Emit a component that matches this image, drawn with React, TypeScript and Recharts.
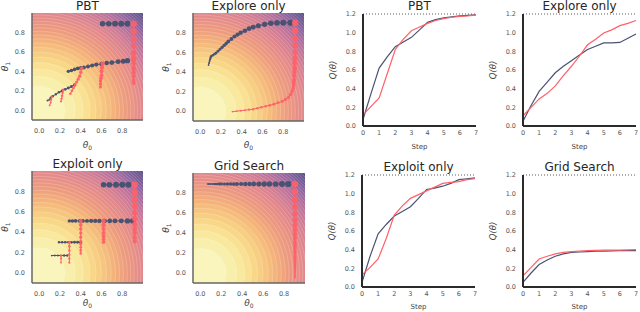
import React from 'react';
import * as RC from 'recharts';

const { ScatterChart, Scatter, LineChart, Line, XAxis, YAxis, ZAxis, ReferenceLine } = RC;
const R: any = RC;

type Pt = [number, number, number]; // theta0, theta1, step

// ---- line panels: Q(theta) per step ----
const STEPS = [0, 0.5, 1, 1.5, 2, 2.5, 3, 3.5, 4, 4.5, 5, 5.5, 6, 6.5, 7];
const STEP_TICKS = [0, 1, 2, 3, 4, 5, 6, 7];
const Q_TICKS = [0, 0.2, 0.4, 0.6, 0.8, 1.0, 1.2];
const THETA_TICKS = [0, 0.2, 0.4, 0.6, 0.8];

const PBT_Q_BLUE = [0.07, 0.35, 0.62, 0.74, 0.85, 0.9, 0.95, 1.03, 1.11, 1.14, 1.16, 1.17, 1.18, 1.185, 1.19];
const PBT_Q_RED = [0.12, 0.21, 0.3, 0.56, 0.82, 0.93, 1.02, 1.06, 1.1, 1.13, 1.15, 1.165, 1.175, 1.18, 1.19];
const EXPLORE_Q_BLUE = [0.05, 0.22, 0.37, 0.47, 0.57, 0.64, 0.7, 0.76, 0.82, 0.855, 0.89, 0.89, 0.895, 0.94, 0.985];
const EXPLORE_Q_RED = [0.11, 0.2, 0.29, 0.35, 0.43, 0.54, 0.64, 0.75, 0.87, 0.93, 0.996, 1.03, 1.075, 1.1, 1.13];
const EXPLOIT_Q_BLUE = [0.05, 0.33, 0.57, 0.67, 0.76, 0.81, 0.86, 0.95, 1.045, 1.06, 1.08, 1.11, 1.15, 1.16, 1.17];
const EXPLOIT_Q_RED = [0.13, 0.21, 0.3, 0.52, 0.77, 0.87, 0.95, 0.99, 1.03, 1.07, 1.11, 1.12, 1.13, 1.15, 1.16];
const GRID_Q_BLUE = [0.05, 0.15, 0.24, 0.29, 0.33, 0.355, 0.37, 0.375, 0.38, 0.383, 0.385, 0.388, 0.39, 0.39, 0.39];
const GRID_Q_RED = [0.12, 0.21, 0.3, 0.33, 0.355, 0.37, 0.38, 0.385, 0.39, 0.393, 0.395, 0.395, 0.395, 0.398, 0.4];

// ---- theta trajectories ----
const PBT_BLUE_TOP: Pt[] = [[0.85, 0.89, 1.2], [0.79, 0.89, 1.5], [0.73, 0.89, 1.8], [0.67, 0.89, 2.1], [0.61, 0.89, 2.4]];
const PBT_BLUE_MID: Pt[] = [[0.85, 0.51, 2.8], [0.81, 0.505, 3.1], [0.76, 0.5, 3.4], [0.7, 0.49, 3.7], [0.65, 0.485, 3.9], [0.6, 0.475, 4.1], [0.55, 0.47, 4.3], [0.51, 0.46, 4.5], [0.47, 0.45, 4.7], [0.43, 0.44, 4.9], [0.4, 0.435, 5.0], [0.37, 0.43, 5.1], [0.34, 0.42, 5.2], [0.31, 0.41, 5.3], [0.28, 0.4, 5.4]];
const PBT_BLUE_LOW: Pt[] = [[0.34, 0.26, 5.6], [0.31, 0.245, 5.8], [0.28, 0.23, 5.9], [0.25, 0.215, 6.0], [0.22, 0.2, 6.1], [0.19, 0.185, 6.2], [0.16, 0.165, 6.3], [0.13, 0.145, 6.4], [0.11, 0.13, 6.5], [0.1, 0.11, 6.6], [0.08, 0.1, 6.7]];
const PBT_RED_A: Pt[] = [[0.91, 0.89, 0.0], [0.91, 0.81, 0.6], [0.91, 0.73, 1.2], [0.91, 0.66, 1.8], [0.91, 0.59, 2.3], [0.91, 0.53, 2.8], [0.91, 0.48, 3.2], [0.91, 0.43, 3.6], [0.91, 0.39, 4.0], [0.91, 0.35, 4.4], [0.91, 0.31, 4.8], [0.91, 0.28, 5.1]];
const PBT_RED_B: Pt[] = [[0.61, 0.48, 4.0], [0.605, 0.44, 4.3], [0.6, 0.4, 4.6], [0.6, 0.36, 4.9], [0.595, 0.33, 5.1], [0.59, 0.3, 5.3], [0.59, 0.27, 5.5], [0.59, 0.24, 5.7]];
const PBT_RED_C: Pt[] = [[0.41, 0.43, 5.0], [0.4, 0.39, 5.2], [0.39, 0.35, 5.4], [0.375, 0.32, 5.6], [0.36, 0.29, 5.8], [0.345, 0.26, 5.9], [0.33, 0.23, 6.0], [0.315, 0.2, 6.1], [0.3, 0.17, 6.2]];
const PBT_RED_D: Pt[] = [[0.23, 0.21, 6.2], [0.225, 0.18, 6.3], [0.22, 0.15, 6.4], [0.215, 0.12, 6.5], [0.21, 0.09, 6.6]];
const PBT_RED_E: Pt[] = [[0.12, 0.14, 6.5], [0.115, 0.11, 6.6], [0.11, 0.08, 6.7], [0.1, 0.05, 6.8]];

const EXPLORE_BLUE: Pt[] = [[0.87, 0.9, 1.0], [0.8, 0.9, 1.4], [0.74, 0.9, 1.8], [0.68, 0.895, 2.2], [0.62, 0.885, 2.6], [0.56, 0.87, 3.0], [0.51, 0.855, 3.3], [0.47, 0.84, 3.6], [0.43, 0.82, 3.9], [0.39, 0.8, 4.2], [0.36, 0.78, 4.4], [0.33, 0.76, 4.6], [0.3, 0.735, 4.8], [0.27, 0.71, 5.0], [0.25, 0.69, 5.2], [0.23, 0.67, 5.4], [0.21, 0.65, 5.6], [0.19, 0.63, 5.8], [0.17, 0.61, 6.0], [0.15, 0.59, 6.1], [0.135, 0.58, 6.2], [0.12, 0.57, 6.3], [0.105, 0.56, 6.4], [0.1, 0.545, 6.5], [0.095, 0.53, 6.6], [0.09, 0.51, 6.7], [0.085, 0.49, 6.8], [0.08, 0.47, 6.9]];
const EXPLORE_RED: Pt[] = [[0.915, 0.9, 0.2], [0.915, 0.82, 0.7], [0.915, 0.74, 1.2], [0.915, 0.67, 1.7], [0.915, 0.6, 2.2], [0.913, 0.54, 2.6], [0.91, 0.49, 3.0], [0.91, 0.44, 3.4], [0.908, 0.4, 3.8], [0.905, 0.36, 4.1], [0.905, 0.32, 4.4], [0.9, 0.29, 4.7], [0.9, 0.26, 5.0], [0.895, 0.23, 5.2], [0.885, 0.2, 5.4], [0.87, 0.17, 5.5], [0.85, 0.14, 5.6], [0.82, 0.12, 5.7], [0.79, 0.1, 5.8], [0.75, 0.085, 5.9], [0.71, 0.07, 6.0], [0.67, 0.06, 6.1], [0.63, 0.05, 6.2], [0.59, 0.04, 6.3], [0.55, 0.03, 6.4], [0.51, 0.02, 6.5], [0.47, 0.015, 6.6], [0.43, 0.01, 6.7], [0.39, 0.005, 6.8], [0.35, 0.0, 6.9], [0.31, -0.005, 7.0]];

const EXPLOIT_BLUE_A: Pt[] = [[0.86, 0.865, 1.0], [0.8, 0.865, 1.3], [0.74, 0.865, 1.6], [0.675, 0.865, 1.9], [0.62, 0.865, 2.2]];
const EXPLOIT_BLUE_B: Pt[] = [[0.9, 0.51, 2.6], [0.85, 0.51, 2.9], [0.79, 0.51, 3.2], [0.73, 0.51, 3.5], [0.68, 0.51, 3.8], [0.63, 0.51, 4.0], [0.58, 0.51, 4.2], [0.54, 0.51, 4.4], [0.5, 0.51, 4.6], [0.46, 0.51, 4.8], [0.42, 0.51, 5.0], [0.39, 0.51, 5.1], [0.35, 0.51, 5.2], [0.32, 0.51, 5.3], [0.29, 0.51, 5.4]];
const EXPLOIT_BLUE_C: Pt[] = [[0.4, 0.3, 5.8], [0.37, 0.3, 5.9], [0.34, 0.3, 6.0], [0.31, 0.3, 6.1], [0.28, 0.3, 6.2], [0.25, 0.3, 6.3], [0.22, 0.3, 6.4], [0.19, 0.3, 6.5]];
const EXPLOIT_BLUE_D: Pt[] = [[0.27, 0.17, 6.4], [0.24, 0.17, 6.5], [0.21, 0.17, 6.6], [0.18, 0.17, 6.7], [0.15, 0.17, 6.8], [0.12, 0.17, 6.9]];
const EXPLOIT_RED_A: Pt[] = [[0.92, 0.865, 0.2], [0.92, 0.787, 0.7], [0.92, 0.718, 1.2], [0.92, 0.653, 1.7], [0.92, 0.59, 2.2], [0.92, 0.531, 2.6], [0.92, 0.479, 3.0], [0.92, 0.433, 3.4], [0.92, 0.39, 3.8], [0.92, 0.348, 4.1], [0.92, 0.308, 4.4]];
const EXPLOIT_RED_B: Pt[] = [[0.62, 0.51, 3.8], [0.62, 0.47, 4.1], [0.62, 0.43, 4.4], [0.62, 0.39, 4.7], [0.62, 0.36, 4.9], [0.62, 0.33, 5.1], [0.62, 0.3, 5.3]];
const EXPLOIT_RED_C: Pt[] = [[0.4, 0.51, 4.9], [0.4, 0.47, 5.1], [0.4, 0.43, 5.3], [0.4, 0.39, 5.5], [0.4, 0.35, 5.7], [0.4, 0.31, 5.8], [0.4, 0.28, 5.9], [0.4, 0.25, 6.0], [0.4, 0.22, 6.1], [0.4, 0.19, 6.2]];
const EXPLOIT_RED_D: Pt[] = [[0.29, 0.3, 6.1], [0.29, 0.26, 6.2], [0.29, 0.22, 6.3], [0.29, 0.18, 6.4], [0.29, 0.14, 6.5], [0.29, 0.1, 6.6]];
const EXPLOIT_RED_E: Pt[] = [[0.21, 0.17, 6.6], [0.21, 0.14, 6.7], [0.21, 0.1, 6.8]];

const GRID_BLUE: Pt[] = [[0.84, 0.89, 0.8], [0.78, 0.89, 1.3], [0.72, 0.89, 1.8], [0.66, 0.89, 2.3], [0.61, 0.89, 2.7], [0.56, 0.89, 3.1], [0.51, 0.89, 3.5], [0.47, 0.89, 3.9], [0.43, 0.89, 4.2], [0.39, 0.89, 4.5], [0.35, 0.89, 4.8], [0.32, 0.89, 5.1], [0.29, 0.89, 5.3], [0.26, 0.89, 5.5], [0.23, 0.89, 5.7], [0.2, 0.89, 5.9], [0.18, 0.89, 6.1], [0.16, 0.89, 6.3], [0.14, 0.89, 6.5], [0.12, 0.89, 6.7], [0.1, 0.89, 6.8], [0.08, 0.89, 6.9], [0.07, 0.89, 7.0]];
const GRID_RED: Pt[] = [[0.904, 0.89, 0.2], [0.904, 0.81, 0.7], [0.904, 0.73, 1.2], [0.904, 0.66, 1.7], [0.904, 0.59, 2.2], [0.904, 0.53, 2.6], [0.904, 0.48, 3.0], [0.904, 0.43, 3.4], [0.904, 0.39, 3.8], [0.904, 0.35, 4.1], [0.904, 0.31, 4.4], [0.904, 0.28, 4.7], [0.904, 0.25, 5.0], [0.904, 0.22, 5.2], [0.904, 0.2, 5.4], [0.904, 0.17, 5.6], [0.904, 0.15, 5.8], [0.904, 0.13, 6.0], [0.904, 0.11, 6.2], [0.904, 0.09, 6.3], [0.904, 0.07, 6.4], [0.904, 0.05, 6.5], [0.904, 0.03, 6.6], [0.904, 0.01, 6.7], [0.904, -0.01, 6.8], [0.904, -0.03, 6.9], [0.904, -0.05, 7.0]];

// toy objective Q = 1.2 - theta0^2 - theta1^2, coloured as filled contours
const Q_MAX = 1.2;
const DQ = 0.06;
const N_LEVELS = 33;
const X_DOM: [number, number] = [-0.07, 1.0];
const Y_DOM: [number, number] = [-0.1, 1.0];

const BLUE = '#4a5271';
const RED = '#ff6068';
const TICK = { fontSize: 6.5, fill: '#555' };

const CMAP: [number, string][] = [
  [1.2, '#f9f8c4'],
  [1.05, '#f9e99e'],
  [0.9, '#f8d283'],
  [0.7, '#f4b47a'],
  [0.5, '#ee9b7e'],
  [0.25, '#e48a8a'],
  [0.0, '#d07c95'],
  [-0.2, '#b7719c'],
  [-0.4, '#9567a0'],
  [-0.6, '#735c95'],
  [-0.8, '#574f80'],
];

function rgb(h: string) {
  const n = parseInt(h.slice(1), 16);
  return [(n >> 16) & 255, (n >> 8) & 255, n & 255];
}

function cmap(q: number) {
  if (q >= CMAP[0][0]) return CMAP[0][1];
  for (let i = 0; i < CMAP.length - 1; i++) {
    const [q0, c0] = CMAP[i];
    const [q1, c1] = CMAP[i + 1];
    if (q <= q0 && q >= q1) {
      const f = (q0 - q) / (q0 - q1);
      const a = rgb(c0);
      const b = rgb(c1);
      return `rgb(${a.map((v, k) => Math.round(v + (b[k] - v) * f)).join(',')})`;
    }
  }
  return CMAP[CMAP.length - 1][1];
}

function usePlot() {
  if (R.usePlotArea) return R.usePlotArea();
  const off = R.useOffset();
  const w = R.useChartWidth();
  const h = R.useChartHeight();
  if (!off || w == null || h == null) return null;
  return { x: off.left, y: off.top, width: w - off.left - off.right, height: h - off.top - off.bottom };
}

function Contours() {
  const plot = usePlot();
  const id = 'clip' + React.useId().replace(/[^a-zA-Z0-9]/g, '');
  if (!plot) return null;
  const kx = plot.width / (X_DOM[1] - X_DOM[0]);
  const ky = plot.height / (Y_DOM[1] - Y_DOM[0]);
  const cx = plot.x - X_DOM[0] * kx;
  const cy = plot.y + Y_DOM[1] * ky;
  const levels = [];
  for (let k = N_LEVELS; k >= 1; k--) levels.push(k);
  return (
    <g>
      <defs>
        <clipPath id={id}>
          <rect x={plot.x} y={plot.y} width={plot.width} height={plot.height} />
        </clipPath>
      </defs>
      <g clipPath={`url(#${id})`}>
        <rect x={plot.x} y={plot.y} width={plot.width} height={plot.height} fill={cmap(Q_MAX - DQ * (N_LEVELS + 0.5))} />
        {levels.map((k) => {
          const r = Math.sqrt(DQ * k);
          return (
            <ellipse
              key={k}
              cx={cx}
              cy={cy}
              rx={r * kx}
              ry={r * ky}
              fill={cmap(Q_MAX - DQ * (k - 0.5))}
              stroke="rgba(255,255,255,0.32)"
              strokeWidth={0.6}
            />
          );
        })}
      </g>
    </g>
  );
}

function Title({ text, gap }: { text: string; gap: number }) {
  const plot = usePlot();
  if (!plot) return null;
  return (
    <text x={plot.x + plot.width / 2} y={plot.y - gap} textAnchor="middle" fontSize={12} fill="#262626">
      {text}
    </text>
  );
}

function ThetaLabels({ below }: { below: number }) {
  const plot = usePlot();
  if (!plot) return null;
  const bx = plot.x + plot.width / 2;
  const by = plot.y + plot.height + below;
  const lx = plot.x - 24;
  const ly = plot.y + plot.height / 2;
  return (
    <g fill="#444" fontSize={9}>
      <text x={bx} y={by} textAnchor="middle">
        <tspan fontStyle="italic">θ</tspan>
        <tspan fontSize={6} dy={2}>0</tspan>
      </text>
      <text x={lx} y={ly} textAnchor="middle" transform={`rotate(-90 ${lx} ${ly})`}>
        <tspan fontStyle="italic">θ</tspan>
        <tspan fontSize={6} dy={2}>1</tspan>
      </text>
    </g>
  );
}

function StepLabels({ below }: { below: number }) {
  const plot = usePlot();
  if (!plot) return null;
  const lx = plot.x - 27;
  const ly = plot.y + plot.height / 2;
  return (
    <g fill="#444">
      <text x={plot.x + plot.width / 2} y={plot.y + plot.height + below} textAnchor="middle" fontSize={7}>
        Step
      </text>
      <text x={lx} y={ly} textAnchor="middle" fontSize={8.5} fontStyle="italic" transform={`rotate(-90 ${lx} ${ly})`}>
        Q(θ)
      </text>
    </g>
  );
}

const pts = (a: Pt[]) => a.map(([x, y, t]) => ({ x, y, t }));

interface ThetaPanelProps {
  left: number;
  top: number;
  w: number;
  h: number;
  title: string;
  below: number;
  blue: Pt[][];
  red: Pt[][];
}

const TOP_PAD = 20;

function ThetaPanel({ left, top, w, h, title, below, blue, red }: ThetaPanelProps) {
  const axisLine = { stroke: '#666', strokeWidth: 1.5 };
  return (
    <div style={{ position: 'absolute', left: left - 32, top: top - TOP_PAD }}>
      <ScatterChart width={w + 39} height={h + TOP_PAD + 36} margin={{ top: TOP_PAD, right: 7, bottom: 0, left: 0 }}>
        <Contours />
        <XAxis type="number" dataKey="x" domain={X_DOM} allowDataOverflow ticks={THETA_TICKS} interval={0}
          tickFormatter={(v: number) => v.toFixed(1)} tickLine={false} tickSize={4} tickMargin={4}
          axisLine={axisLine} tick={TICK} height={36} />
        <YAxis type="number" dataKey="y" domain={Y_DOM} allowDataOverflow ticks={THETA_TICKS} interval={0}
          tickFormatter={(v: number) => v.toFixed(1)} tickLine={false} tickSize={3} tickMargin={4}
          axisLine={axisLine} tick={TICK} width={32} />
        <ZAxis type="number" dataKey="t" domain={[0, 7]} range={[34, 2]} />
        {blue.map((s, i) => (
          <Scatter key={'b' + i} data={pts(s)} fill={BLUE} line={{ stroke: BLUE, strokeWidth: 1 }}
            lineType="joint" isAnimationActive={false} />
        ))}
        {red.map((s, i) => (
          <Scatter key={'r' + i} data={pts(s)} fill={RED} fillOpacity={0.9} line={{ stroke: RED, strokeWidth: 1 }}
            lineType="joint" isAnimationActive={false} />
        ))}
        <Title text={title} gap={3} />
        <ThetaLabels below={below} />
      </ScatterChart>
    </div>
  );
}

interface StepPanelProps {
  left: number;
  top: number;
  title: string;
  below: number;
  blue: number[];
  red: number[];
}

function StepPanel({ left, top, title, below, blue, red }: StepPanelProps) {
  const data = STEPS.map((s, i) => ({ step: s, blue: blue[i], red: red[i] }));
  const axisLine = { stroke: '#2b2b2b', strokeWidth: 2 };
  return (
    <div style={{ position: 'absolute', left: left - 45, top: top - TOP_PAD }}>
      <LineChart width={45 + 113 + 3} height={TOP_PAD + 112 + 30} data={data} margin={{ top: TOP_PAD, right: 3, bottom: 0, left: 0 }}>
        <XAxis type="number" dataKey="step" domain={[0, 7]} ticks={STEP_TICKS} interval={0} tickLine={false}
          tickSize={2} tickMargin={2} axisLine={axisLine} tick={TICK} height={30} />
        <YAxis type="number" domain={[0, 1.2]} ticks={Q_TICKS} interval={0} tickFormatter={(v: number) => v.toFixed(1)}
          tickLine={false} tickSize={3} tickMargin={4} axisLine={axisLine} tick={TICK} width={45} />
        <ReferenceLine y={1.2} stroke="#333" strokeDasharray="1 2" strokeWidth={0.8} />
        <Line type="linear" dataKey="blue" stroke={BLUE} strokeWidth={1.2} dot={false} isAnimationActive={false} />
        <Line type="linear" dataKey="red" stroke={RED} strokeWidth={1.2} dot={false} isAnimationActive={false} />
        <Title text={title} gap={4} />
        <StepLabels below={below} />
      </LineChart>
    </div>
  );
}

export default function App() {
  return (
    <div
      style={{
        position: 'absolute',
        left: 0,
        top: 0,
        width: 640,
        height: 312,
        overflow: 'hidden',
        background: '#fff',
        fontFamily: '"DejaVu Sans", sans-serif',
      }}
    >
      <ThetaPanel left={32} top={13} w={111} h={107} title="PBT" below={28}
        blue={[PBT_BLUE_TOP, PBT_BLUE_MID, PBT_BLUE_LOW]}
        red={[PBT_RED_A, PBT_RED_B, PBT_RED_C, PBT_RED_D, PBT_RED_E]} />
      <ThetaPanel left={193} top={13} w={111} h={108} title="Explore only" below={27}
        blue={[EXPLORE_BLUE]} red={[EXPLORE_RED]} />
      <ThetaPanel left={32} top={171} w={111} h={112} title="Exploit only" below={23}
        blue={[EXPLOIT_BLUE_A, EXPLOIT_BLUE_B, EXPLOIT_BLUE_C, EXPLOIT_BLUE_D]}
        red={[EXPLOIT_RED_A, EXPLOIT_RED_B, EXPLOIT_RED_C, EXPLOIT_RED_D, EXPLOIT_RED_E]} />
      <ThetaPanel left={193} top={173} w={112} h={110} title="Grid Search" below={23}
        blue={[GRID_BLUE]} red={[GRID_RED]} />

      <StepPanel left={363} top={14} title="PBT" below={23} blue={PBT_Q_BLUE} red={PBT_Q_RED} />
      <StepPanel left={523} top={14} title="Explore only" below={23} blue={EXPLORE_Q_BLUE} red={EXPLORE_Q_RED} />
      <StepPanel left={362} top={175} title="Exploit only" below={22} blue={EXPLOIT_Q_BLUE} red={EXPLOIT_Q_RED} />
      <StepPanel left={523} top={175} title="Grid Search" below={22} blue={GRID_Q_BLUE} red={GRID_Q_RED} />
    </div>
  );
}
